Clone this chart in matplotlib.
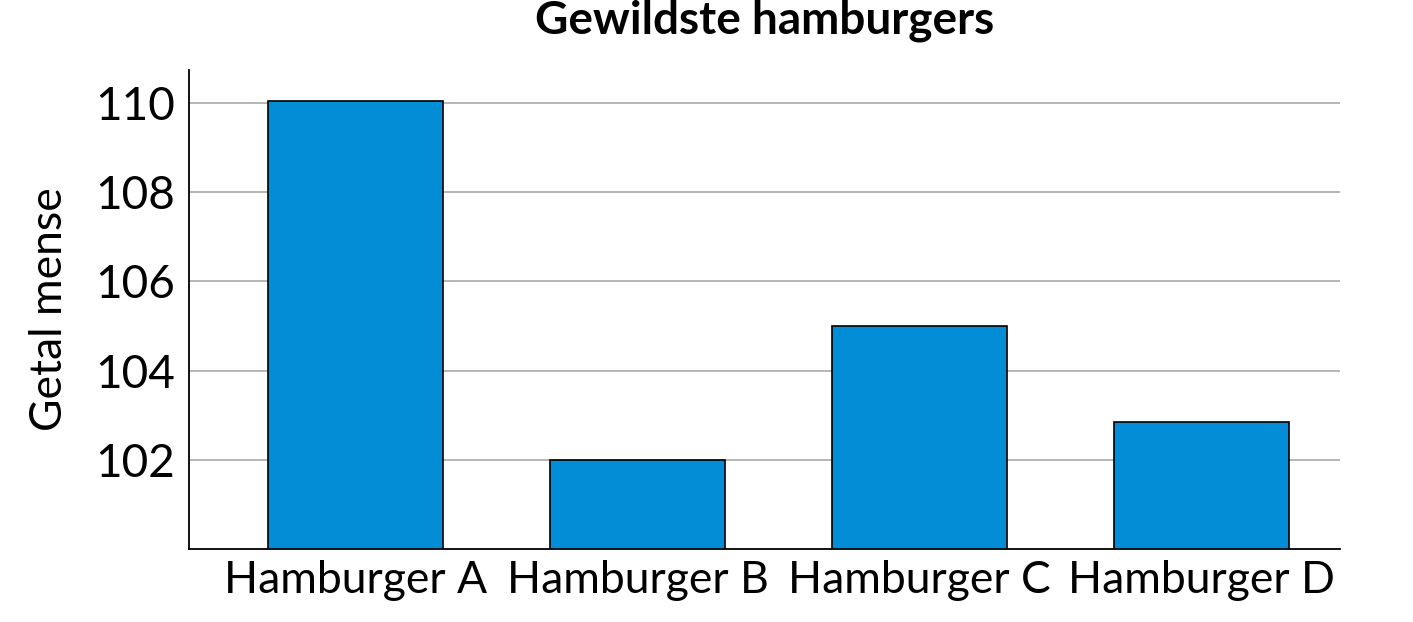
import matplotlib
matplotlib.use("Agg")
import matplotlib.pyplot as plt

categories = ["Hamburger A", "Hamburger B", "Hamburger C", "Hamburger D"]
values = [110.05, 102.0, 105.0, 102.85]
yticks = [102, 104, 106, 108, 110]

plt.rcParams['font.family'] = ['Lato', 'DejaVu Sans']
fig = plt.figure(figsize=(14.13, 6.22), dpi=100)
ax = fig.add_axes([189/1413, 1-549/622, (1340-189)/1413, (549-70)/622])
x = range(len(categories))
ax.bar(x, [v - 100 for v in values], bottom=100, width=0.62, color="#038dd6",
       edgecolor="black", linewidth=1.2, zorder=3)
ax.set_xlim(-0.59, 3.49)
ax.set_ylim(100, 110.74)
ax.set_yticks(yticks)
ax.set_xticks(list(x))
ax.set_xticklabels(categories, fontsize=32)
ax.tick_params(axis='y', labelsize=33, length=0, pad=10)
ax.tick_params(axis='x', length=0, pad=8)
ax.grid(axis='y', color="#b0b0b0", linewidth=1.3, zorder=0)
for s in ["top", "right"]:
    ax.spines[s].set_visible(False)
ax.spines["left"].set_linewidth(1.3)
ax.spines["bottom"].set_linewidth(1.3)
ax.set_ylabel("Getal mense", fontsize=32, labelpad=18)
fig.suptitle("Gewildste hamburgers", fontsize=33, fontweight="bold", x=(189+1340)/2/1413, y=1.0)
fig.savefig("out.png", dpi=100)
